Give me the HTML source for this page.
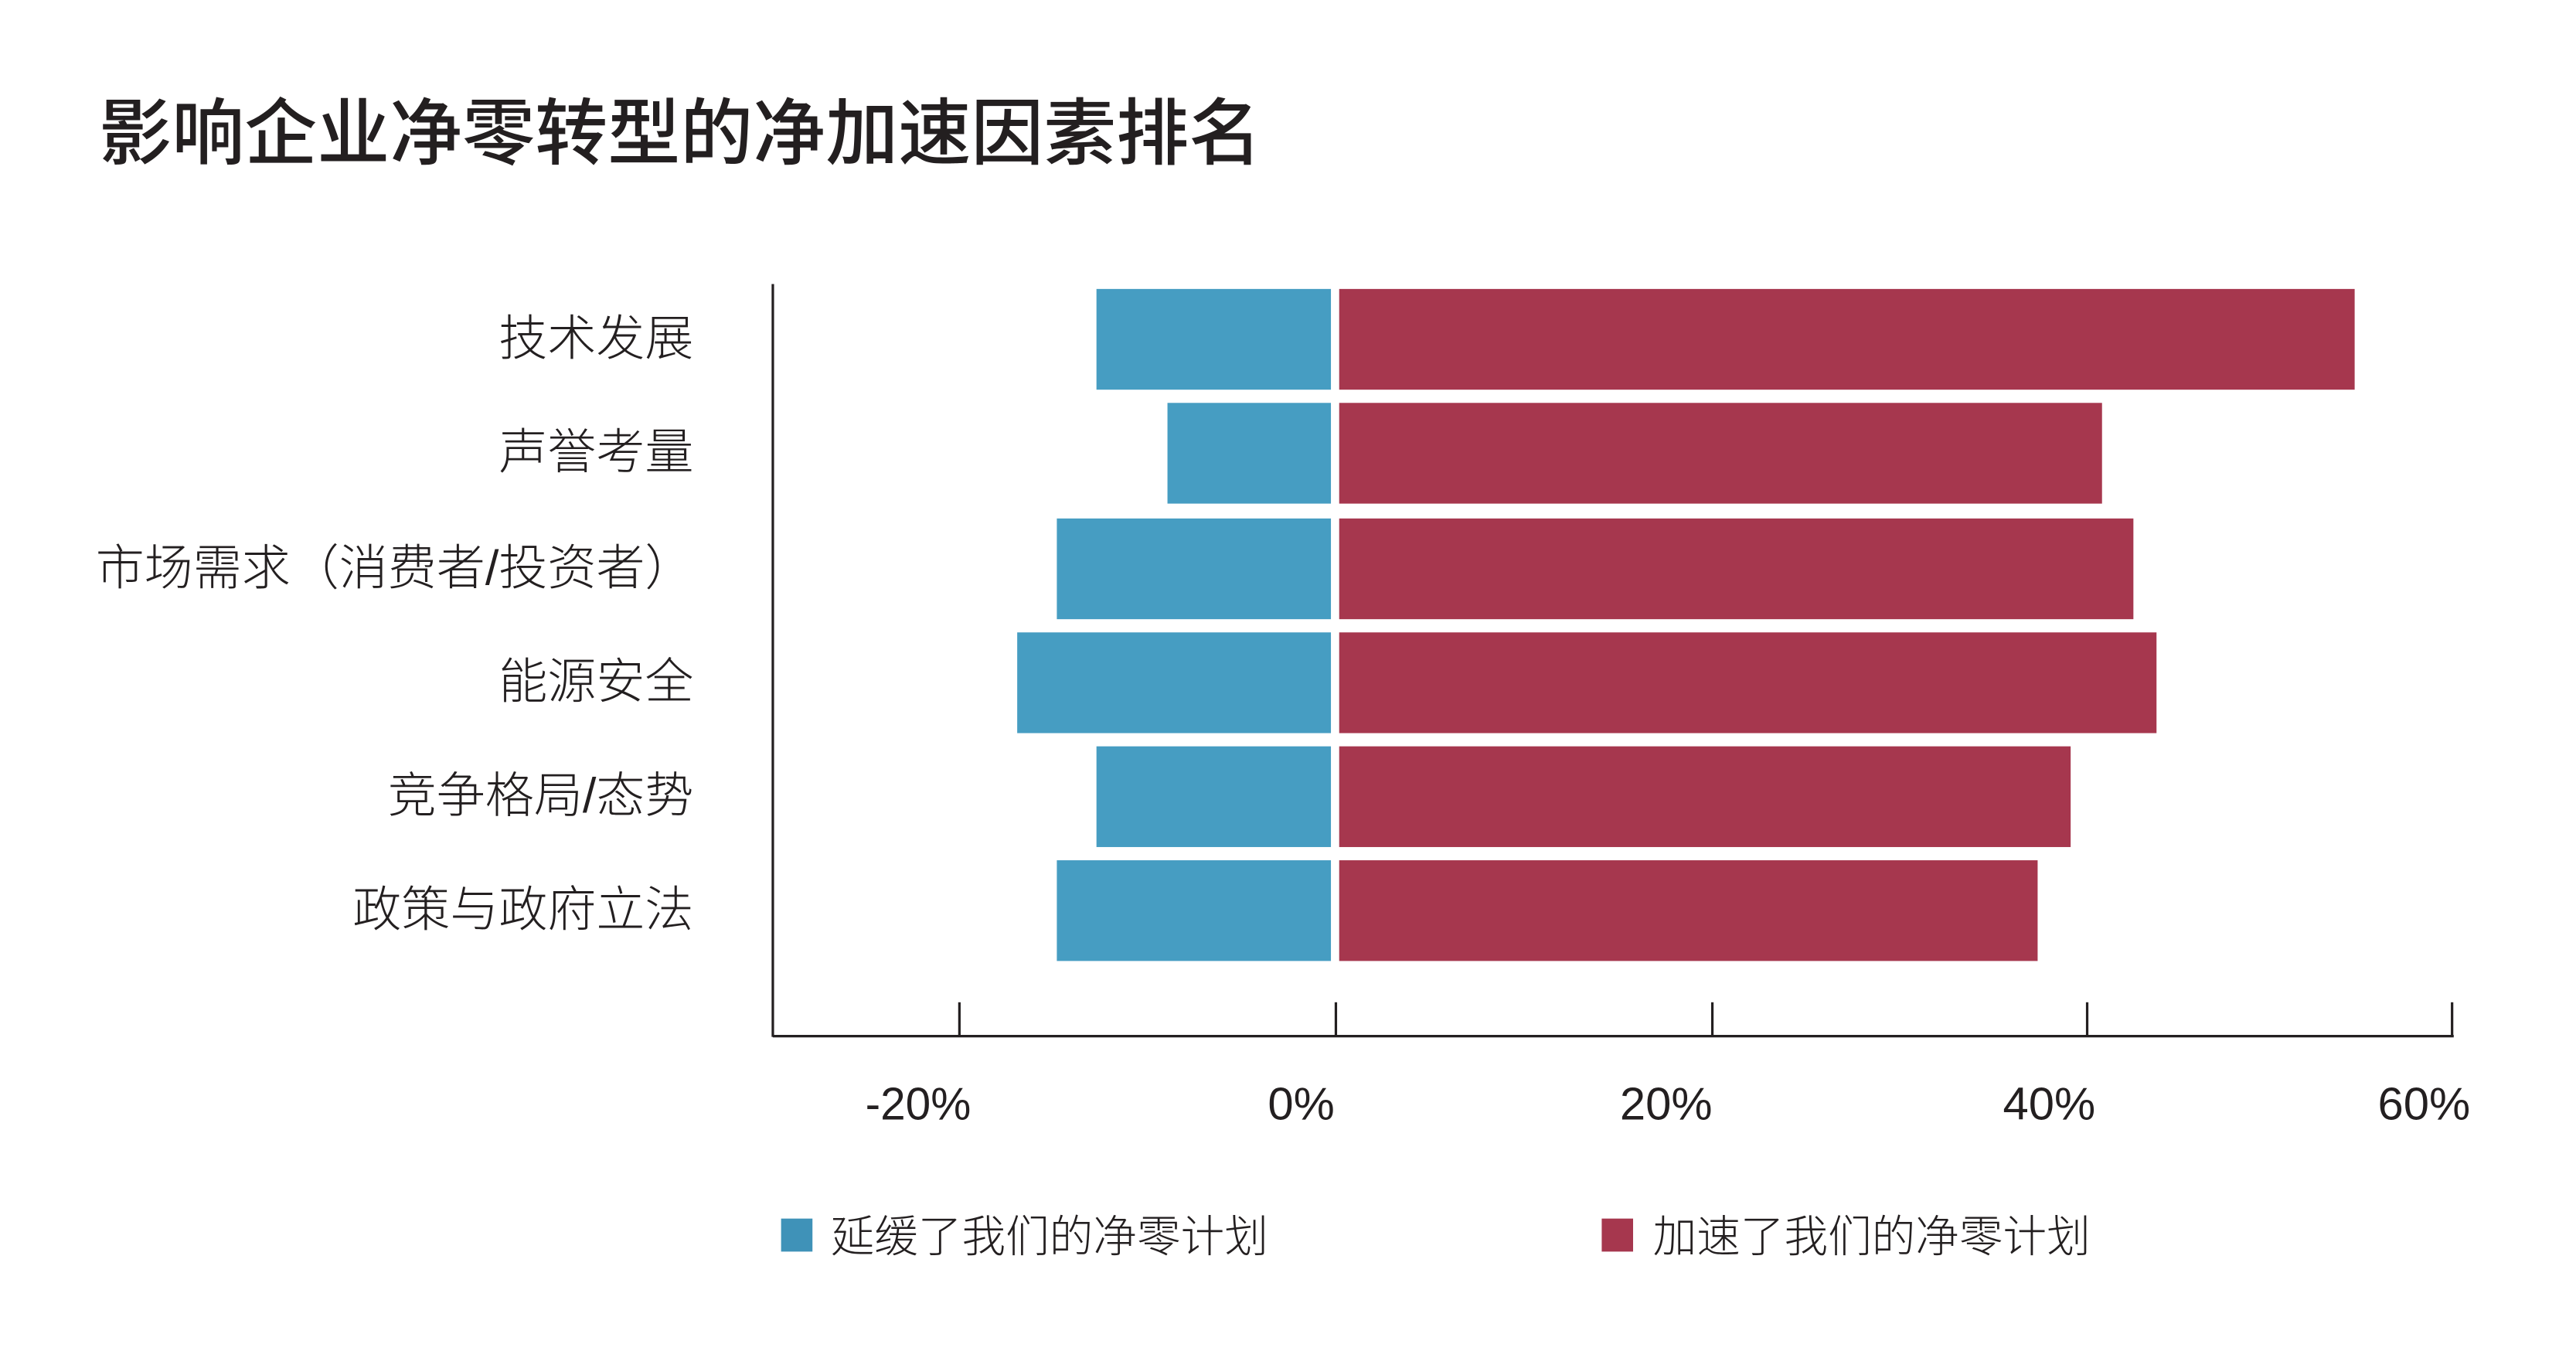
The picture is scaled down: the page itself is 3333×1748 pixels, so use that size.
<!DOCTYPE html>
<html><head><meta charset="utf-8"><style>
html,body{margin:0;padding:0;background:#fff;}
svg{display:block;}
text{font-family:"Liberation Sans","Noto Sans CJK SC",sans-serif;fill:#231f20;}
</style></head><body>
<svg width="3333" height="1748" viewBox="0 0 1560 818.2" xmlns="http://www.w3.org/2000/svg">
<rect width="1560" height="818.2" fill="#fff"/>
<text x="60" y="96" font-size="44" font-weight="500" font-family="Noto Sans CJK SC, sans-serif">影响企业净零转型的净加速因素排名</text>
<g fill="#469dc2">
<rect x="664" y="175" width="142" height="61"/>
<rect x="707" y="244" width="99" height="61"/>
<rect x="640" y="314" width="166" height="61"/>
<rect x="616" y="383" width="190" height="61"/>
<rect x="664" y="452" width="142" height="61"/>
<rect x="640" y="521" width="166" height="61"/>
</g>
<g fill="#a6374e">
<rect x="811" y="175" width="615" height="61"/>
<rect x="811" y="244" width="462" height="61"/>
<rect x="811" y="314" width="481" height="61"/>
<rect x="811" y="383" width="495" height="61"/>
<rect x="811" y="452" width="443" height="61"/>
<rect x="811" y="521" width="423" height="61"/>
</g>
<g stroke="#231f20" stroke-width="1.5" fill="none">
<line x1="468" y1="172" x2="468" y2="628"/>
<line x1="468" y1="627.5" x2="1486" y2="627.5"/>
<line x1="581" y1="607" x2="581" y2="628"/>
<line x1="809" y1="607" x2="809" y2="628"/>
<line x1="1037" y1="607" x2="1037" y2="628"/>
<line x1="1264" y1="607" x2="1264" y2="628"/>
<line x1="1485" y1="607" x2="1485" y2="628"/>
</g>
<g font-size="29.5" font-weight="300" text-anchor="end">
<text x="420" y="215">技术发展</text>
<text x="420" y="284">声誉考量</text>
<text x="420" y="354">市场需求（消费者/投资者）</text>
<text x="420" y="423">能源安全</text>
<text x="420" y="492">竞争格局/态势</text>
<text x="420" y="561">政策与政府立法</text>
</g>
<g font-size="28" text-anchor="middle">
<text x="556" y="678" textLength="64" lengthAdjust="spacingAndGlyphs">-20%</text>
<text x="788" y="678">0%</text>
<text x="1009" y="678">20%</text>
<text x="1241" y="678">40%</text>
<text x="1468" y="678">60%</text>
</g>
<rect x="473" y="738" width="19" height="20" fill="#3f92b8"/>
<text x="503" y="758" font-size="26.5" font-weight="300">延缓了我们的净零计划</text>
<rect x="970" y="738" width="19" height="20" fill="#a6374e"/>
<text x="1001" y="758" font-size="26.5" font-weight="300">加速了我们的净零计划</text>
</svg>
</body></html>
